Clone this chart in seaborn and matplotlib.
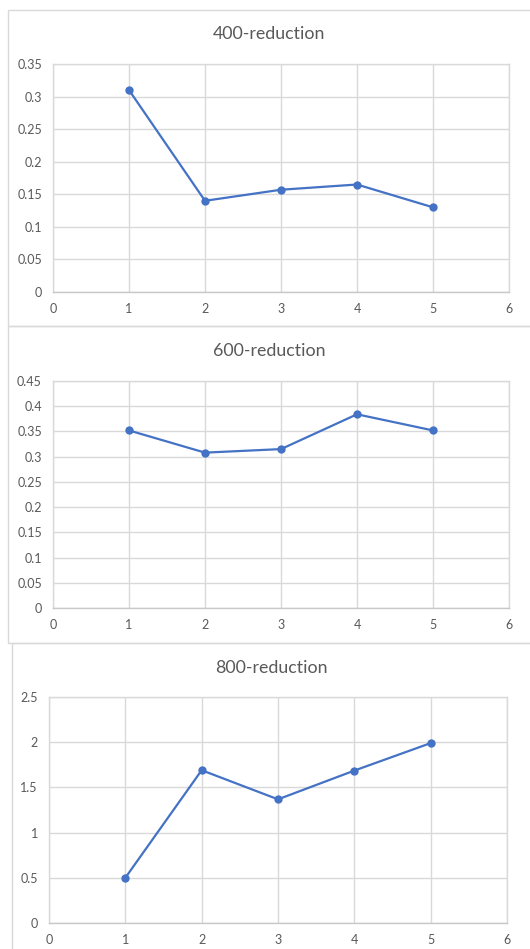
import matplotlib
matplotlib.use("Agg")
import matplotlib.pyplot as plt
from matplotlib.patches import Rectangle
from matplotlib.ticker import FuncFormatter, MultipleLocator
import numpy as np
import pandas as pd
import seaborn as sns

# Measurements per run
runs = [1, 2, 3, 4, 5]
reduction_400 = [0.31, 0.14, 0.157, 0.165, 0.13]
reduction_600 = [0.352, 0.308, 0.315, 0.384, 0.352]
reduction_800 = [0.5, 1.69, 1.368, 1.686, 1.99]

titles = ["400-reduction", "600-reduction", "800-reduction"]
y_max = [0.35, 0.45, 2.5]
y_step = [0.05, 0.05, 0.5]

sns.set_theme(style="whitegrid")
plt.rcParams["font.family"] = ["Lato", "DejaVu Sans"]

LINE = "#4472C4"
GRID = "#D9D9D9"
TEXT = "#595959"

W, H = 530, 949
fig = plt.figure(figsize=(W / 100, H / 100), dpi=100)
fig.patch.set_facecolor("white")


def px_rect(left, top, right, bottom):
    return [left / W, 1 - bottom / H, (right - left) / W, (bottom - top) / H]


# chart frames (left, top, right, bottom) in pixels
frames = [(8, 10, 540, 326), (8, 326, 540, 643), (12, 643, 540, 960)]
for l, t, r, b in frames:
    fig.patches.append(Rectangle((l / W, 1 - b / H), (r - l) / W, (b - t) / H,
                                 transform=fig.transFigure, fill=False,
                                 edgecolor=GRID, linewidth=1.0, zorder=0))

plot_areas = [(53, 64, 509, 292), (53, 381, 509, 608), (49, 697, 507, 923)]
title_y = [34, 351, 668]
title_x = [269, 269, 271]
series = [reduction_400, reduction_600, reduction_800]

fmt = FuncFormatter(lambda v, p: f"{round(v, 4):g}")

for i in range(3):
    ax = fig.add_axes(px_rect(*plot_areas[i]))
    df = pd.DataFrame({"run": runs, "value": series[i]})
    sns.lineplot(data=df, x="run", y="value", ax=ax, color=LINE,
                 marker="o", markersize=6, markeredgewidth=0,
                 linewidth=1.6, zorder=3)
    ax.set_xlim(0, 6)
    ax.set_ylim(0, y_max[i])
    ax.xaxis.set_major_locator(MultipleLocator(1))
    ax.yaxis.set_major_locator(MultipleLocator(y_step[i]))
    ax.yaxis.set_major_formatter(fmt)
    ax.set_xlabel("")
    ax.set_ylabel("")
    ax.set_facecolor("white")
    ax.grid(True, color=GRID, linewidth=1.0)
    for s in ax.spines.values():
        s.set_visible(True)
        s.set_color(GRID)
        s.set_linewidth(1.0)
    ax.spines["bottom"].set_color("#C8C8C8")
    ax.tick_params(axis="both", length=0, labelsize=9, colors=TEXT)
    ax.tick_params(axis="y", pad=8)
    ax.tick_params(axis="x", pad=8)
    fig.text(title_x[i] / W, 1 - title_y[i] / H, titles[i], ha="center",
             va="center", fontsize=12.8, color=TEXT)

fig.savefig("out.png", dpi=100, facecolor="white")
